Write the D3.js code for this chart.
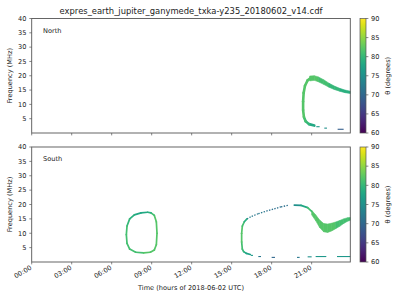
<!DOCTYPE html>
<html>
<head>
<meta charset="utf-8">
<script src="https://cdn.jsdelivr.net/npm/d3@7"></script>
<style>
  body { margin: 0; background: #fff; }
  text { font-family: "DejaVu Sans", sans-serif; fill: #222; }
</style>
</head>
<body>
<div id="chart"></div>
<script>
const title = 'expres_earth_jupiter_ganymede_txka-y235_20180602_v14.cdf'
const timeTicks = [0, 3, 6, 9, 12, 15, 18, 21]
const timeLabels = ['00:00', '03:00', '06:00', '09:00', '12:00', '15:00', '18:00', '21:00']
const freqTicks = [5, 10, 15, 20, 25, 30, 35, 40]
const thetaTicks = [60, 65, 70, 75, 80, 85, 90]

// traces: [hour, MHz, theta]
const northLoop = [[21.2, 2.6, 78], [20.8, 3.1, 80], [20.55, 4.1, 81], [20.42, 5.6, 82], [20.36, 8, 82],
  [20.36, 11, 82], [20.4, 14, 82], [20.5, 16.5, 82], [20.7, 18.4, 82], [20.95, 19.3, 82]]
// bands: [hour, MHz low, MHz high, theta]
const northBand = [[20.85, 18.2, 19.9, 82], [21.2, 18.4, 20.0, 82], [21.5, 17.9, 19.6, 81], [21.9, 17.0, 18.6, 81],
  [22.3, 16.0, 17.4, 80], [22.7, 15.2, 16.4, 80], [23.1, 14.6, 15.6, 79], [23.5, 14.1, 15.0, 79], [23.9, 13.8, 14.6, 78]]
// dashes: [hour start, hour end, MHz, theta]
const northDashes = [[21.35, 21.6, 2.2, 76], [21.95, 22.15, 1.7, 75], [22.95, 23.4, 1.3, 69]]

const southOval = [[8.7, 17.3, 78], [8.2, 17.1, 78], [7.7, 16.4, 79], [7.35, 15.0, 80], [7.15, 12.5, 81],
  [7.1, 9.5, 81], [7.15, 6.5, 81], [7.35, 4.5, 81], [7.8, 3.4, 81], [8.4, 3.2, 82], [8.9, 3.4, 82],
  [9.2, 4.2, 82], [9.35, 6, 82], [9.4, 10, 82], [9.35, 14, 82], [9.2, 16.2, 81], [8.95, 17.1, 79], [8.7, 17.3, 78]]
const southLeft = [[16.4, 2.6, 77], [16.1, 3.0, 78], [15.9, 3.6, 80], [15.8, 4.5, 81], [15.75, 7, 82],
  [15.75, 10, 82], [15.8, 12.5, 81], [15.95, 14, 79], [16.15, 15.0, 77]]
const southDotted = [[16.15, 15.0, 73], [16.5, 15.9, 72], [17.0, 16.8, 72], [17.6, 17.7, 71],
  [18.2, 18.5, 71], [18.7, 19.2, 71], [19.25, 19.7, 71]]
const southUpper = [[19.7, 19.8, 75], [20.2, 19.7, 78], [20.7, 18.9, 81], [21.0, 17.6, 82]]
const southBand = [[21.0, 16.4, 18.0, 82], [21.3, 14.4, 16.4, 82], [21.6, 12.0, 14.6, 82], [21.9, 10.5, 13.4, 82],
  [22.2, 10.3, 13.2, 82], [22.5, 10.8, 13.5, 82], [22.8, 11.6, 13.9, 81], [23.1, 12.4, 14.4, 81],
  [23.4, 13.4, 15.0, 81], [23.7, 14.2, 15.4, 81], [23.9, 14.5, 15.5, 81]]
const southDashes = [[16.45, 16.6, 2.3, 76], [17.0, 17.2, 1.9, 72], [18.0, 18.25, 1.6, 70], [19.9, 20.1, 1.6, 72],
  [20.7, 21.0, 1.8, 75], [21.3, 22.1, 1.9, 76], [22.9, 23.9, 1.9, 76]]

const W = 400, H = 300
const panels = [
  { name: 'North', top: 18.5, bottom: 133, lines: [northLoop], dotted: [], bands: [northBand], dashes: northDashes, labels: false },
  { name: 'South', top: 147, bottom: 262, lines: [southOval, southLeft, southUpper], dotted: [southDotted], bands: [southBand], dashes: southDashes, labels: true }
]

const x = d3.scaleLinear().domain([0, 23.9]).range([31.7, 350.3])
const color = d3.scaleSequential(d3.interpolateViridis).domain([60, 90])

const svg = d3.select('#chart').append('svg')
  .attr('width', W)
  .attr('height', H)

svg.append('text')
  .attr('x', 191).attr('y', 14)
  .attr('text-anchor', 'middle')
  .style('font-size', '8.4px')
  .text(title)

// gradient for colorbars
const grad = svg.append('defs').append('linearGradient')
  .attr('id', 'viridis')
  .attr('x1', 0).attr('y1', 1).attr('x2', 0).attr('y2', 0)
grad.selectAll('stop')
  .data(d3.range(0, 1.001, 0.05))
  .enter().append('stop')
  .attr('offset', d => d)
  .attr('stop-color', d => d3.interpolateViridis(d))

panels.forEach(p => drawPanel(p))

svg.append('text')
  .attr('x', 191).attr('y', 290)
  .attr('text-anchor', 'middle')
  .style('font-size', '6.6px')
  .text('Time (hours of 2018-06-02 UTC)')

function drawPanel(p) {
  const y = d3.scaleLinear().domain([0, 40]).range([p.bottom, p.top])
  const g = svg.append('g')

  // bands
  p.bands.forEach(band => {
    d3.pairs(band).forEach(([a, b]) => {
      const pts = [[x(a[0]), y(a[2])], [x(b[0]), y(b[2])], [x(b[0]), y(b[1])], [x(a[0]), y(a[1])]]
      g.append('path')
        .attr('d', 'M' + pts.join('L') + 'Z')
        .attr('fill', color(a[3]))
        .attr('stroke', color(a[3]))
        .attr('stroke-width', 0.6)
    })
  })

  // traces
  p.lines.forEach(line => {
    d3.pairs(line).forEach(([a, b]) => {
      g.append('line')
        .attr('x1', x(a[0])).attr('y1', y(a[1]))
        .attr('x2', x(b[0])).attr('y2', y(b[1]))
        .attr('stroke', color(a[2]))
        .attr('stroke-width', p.name === 'North' ? 2.6 : 1.7)
        .attr('stroke-linecap', 'round')
    })
  })

  p.dotted.forEach(line => {
    d3.pairs(line).forEach(([a, b]) => {
      g.append('line')
        .attr('x1', x(a[0])).attr('y1', y(a[1]))
        .attr('x2', x(b[0])).attr('y2', y(b[1]))
        .attr('stroke', color(a[2]))
        .attr('stroke-width', 1.3)
        .attr('stroke-dasharray', '1.4,1.4')
    })
  })

  g.selectAll('.dash')
    .data(p.dashes)
    .enter().append('line')
    .attr('x1', d => x(d[0])).attr('x2', d => x(d[1]))
    .attr('y1', d => y(d[2])).attr('y2', d => y(d[2]))
    .attr('stroke', d => color(d[3]))
    .attr('stroke-width', 1.1)

  // frame
  g.append('rect')
    .attr('x', x.range()[0]).attr('y', p.top)
    .attr('width', x.range()[1] - x.range()[0])
    .attr('height', p.bottom - p.top)
    .attr('fill', 'none')
    .attr('stroke', '#555')
    .attr('stroke-width', 0.9)

  // y axis
  g.selectAll('.yt')
    .data(freqTicks)
    .enter().append('line')
    .attr('x1', x.range()[0] - 2.4).attr('x2', x.range()[0])
    .attr('y1', d => y(d)).attr('y2', d => y(d))
    .attr('stroke', '#555').attr('stroke-width', 0.7)
  g.selectAll('.yl')
    .data(freqTicks)
    .enter().append('text')
    .attr('x', 26.5).attr('y', d => y(d) + 2.3)
    .attr('text-anchor', 'end')
    .style('font-size', '6.6px')
    .text(d => d)

  g.append('text')
    .attr('transform', 'translate(12,' + (p.top + p.bottom) / 2 + ') rotate(-90)')
    .attr('text-anchor', 'middle')
    .style('font-size', '6.6px')
    .text('Frequency (MHz)')

  // x axis
  g.selectAll('.xt')
    .data(timeTicks)
    .enter().append('line')
    .attr('x1', d => x(d)).attr('x2', d => x(d))
    .attr('y1', p.bottom).attr('y2', p.bottom + 2.4)
    .attr('stroke', '#555').attr('stroke-width', 0.7)
  if (p.labels) {
    g.selectAll('.xl')
      .data(timeTicks)
      .enter().append('text')
      .attr('transform', d => 'translate(' + (x(d) + 0.5) + ',' + (p.bottom + 7) + ') rotate(-30)')
      .attr('text-anchor', 'end')
      .style('font-size', '6.6px')
      .text((d, i) => timeLabels[i])
  }

  g.append('text')
    .attr('x', 43).attr('y', p.top + 14)
    .style('font-size', '6.6px')
    .text(p.name)

  // colorbar
  const c = d3.scaleLinear().domain([60, 90]).range([p.bottom, p.top])
  g.append('rect')
    .attr('x', 360).attr('y', p.top)
    .attr('width', 6).attr('height', p.bottom - p.top)
    .attr('fill', 'url(#viridis)')
    .attr('stroke', '#555').attr('stroke-width', 0.7)
  g.selectAll('.ct')
    .data(thetaTicks)
    .enter().append('line')
    .attr('x1', 366).attr('x2', 368.4)
    .attr('y1', d => c(d)).attr('y2', d => c(d))
    .attr('stroke', '#555').attr('stroke-width', 0.7)
  g.selectAll('.cl')
    .data(thetaTicks)
    .enter().append('text')
    .attr('x', 371).attr('y', d => c(d) + 2.3)
    .style('font-size', '6.6px')
    .text(d => d)
  g.append('text')
    .attr('transform', 'translate(389.5,' + (p.top + p.bottom) / 2 + ') rotate(-90)')
    .attr('text-anchor', 'middle')
    .style('font-size', '6.6px')
    .text('θ (degrees)')
}
</script>
</body>
</html>
